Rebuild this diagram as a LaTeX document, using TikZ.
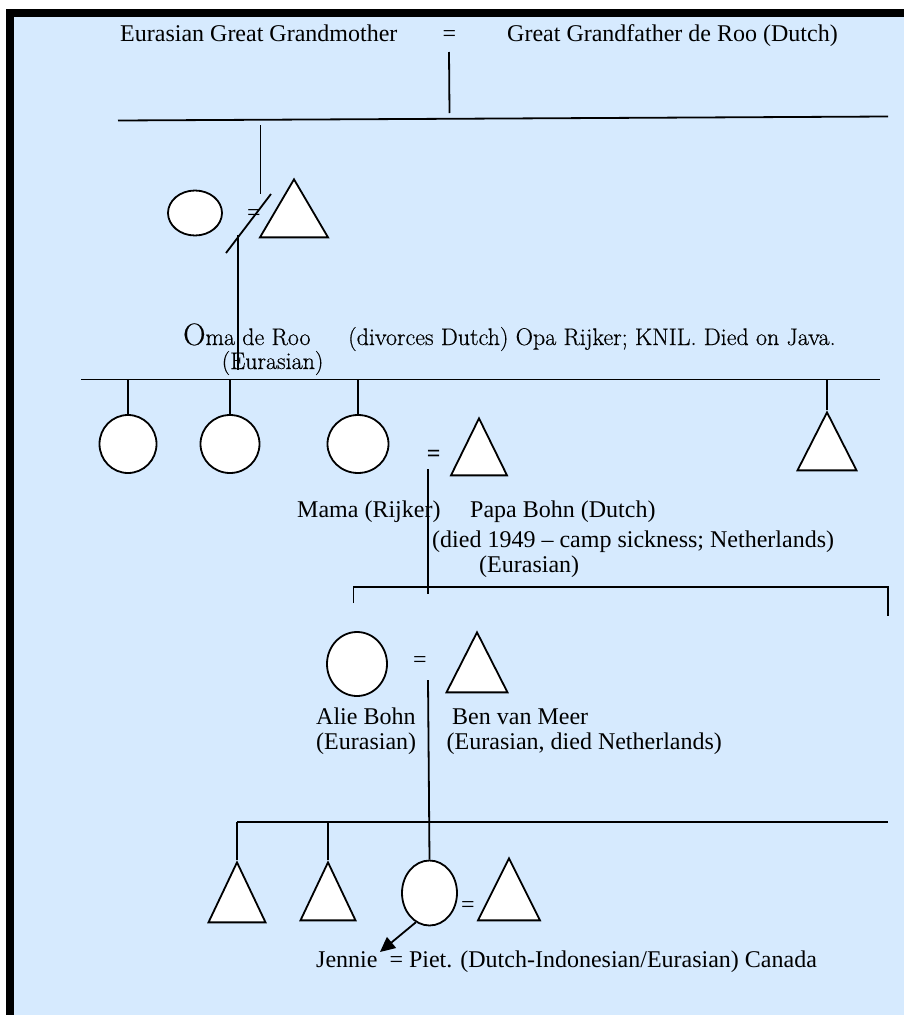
\documentclass[tikz,border=0pt]{standalone}
\usepackage{fontspec}
\newfontfamily\tnr{Liberation Serif}
\newfontfamily\camb[FakeBold=0.5]{Latin Modern Roman}
\usepackage{tikz}
\usetikzlibrary{arrows.meta,shapes.geometric}
\definecolor{bgblue}{RGB}{214,234,254}

\begin{document}
\begin{tikzpicture}[x=1pt,y=-1pt,
  txt/.style={inner sep=0pt,anchor=base west,font=\tnr\fontsize{24}{26}\selectfont},
  cam/.style={inner sep=0pt,anchor=base west,font=\camb\fontsize{24}{26}\selectfont},
  eqs/.style={inner sep=0pt,font=\tnr\fontsize{24}{26}\selectfont},
  fem/.style={draw,ellipse,fill=white,line width=1.8pt,inner sep=0pt},
  mal/.style={draw,isosceles triangle,isosceles triangle stretches,shape border rotate=90,
    fill=white,line width=1.8pt,inner sep=0pt,anchor=apex},
  ln/.style={line width=1.8pt},
  arr/.style={line width=1.8pt,-{Triangle[length=15pt,width=14pt]}}]
\useasboundingbox (0,0) rectangle (904,1015);
\fill[black] (6,9) rectangle (904,1015);
\fill[bgblue] (14,17) rectangle (904,1015);

\node[txt] (ggm) at (120,41) {Eurasian Great Grandmother};
\node[eqs] (eqA) at (449.5,36) {=};
\node[txt] (ggf) at (507,41) {Great Grandfather de Roo (Dutch)};
\coordinate (d1) at (449,52);
\coordinate (d1e) at (449.5,113);
\coordinate (s1w) at (118,120.5);
\coordinate (s1e) at (888,116.5);
\draw[ln] (d1) -- (d1e);
\draw[ln] (s1w) -- (s1e);

\node[fem,minimum width=54,minimum height=45] (oma) at (195,213) {};
\node[eqs] (eqB) at (254,215) {=};
\node[mal,minimum width=68,minimum height=58] (opa) at (294,177) {};
\coordinate (d2) at (260.5,125);
\coordinate (dvA) at (226,253);
\coordinate (dvB) at (271,194);
\coordinate (d3) at (238,235);
\coordinate (d3e) at (238,370);
\draw[ln] (d2) -- (d2 |- dvB);
\draw[ln] (dvA) -- (dvB);
\draw[ln] (d3) -- (d3e);
\node[cam] (omaN) at (183,345) {{\fontsize{31}{31}\selectfont O}ma de Roo};
\node[cam] (opaN) at (348,345) {(divorces Dutch) Opa Rijker; KNIL. Died on Java.};
\node[cam] (omaE) at (221.5,369) {(Eurasian)};

\coordinate (s3w) at (81,379.5);
\coordinate (s3e) at (880,379.5);
\draw[ln] (s3w) -- (s3e);
\node[fem,minimum width=57,minimum height=58] (sis1) at (128,444) {};
\node[fem,minimum width=59,minimum height=58] (sis2) at (230,444) {};
\node[fem,minimum width=61,minimum height=58] (mama) at (358,444) {};
\node[mal,minimum width=59,minimum height=58] (uncle) at (827,410) {};
\foreach \n in {sis1,sis2,mama} \draw[ln] (\n.north) -- (\n.north |- s3w);
\draw[ln] (uncle.apex) -- (uncle.apex |- s3w);
\node[eqs,font=\tnr\bfseries\fontsize{24}{26}\selectfont] (eqC) at (433.7,456) {=};
\node[mal,minimum width=56,minimum height=57] (papa) at (479,416) {};
\coordinate (d4) at (428,469);
\coordinate (d4e) at (428,594);
\draw[ln] (d4) -- (d4e);
\node[txt] (mamaT) at (297,517) {Mama (Rijker)};
\node[txt] (papaT) at (470,517) {Papa Bohn (Dutch)};
\node[txt] (papaD) at (432,547) {(died 1949 – camp sickness; Netherlands)};
\node[txt] (mamaE) at (479,572) {(Eurasian)};

\coordinate (s4w) at (353.5,587);
\coordinate (s4e) at (888,587);
\coordinate (s4wd) at (353.5,603);
\coordinate (s4ed) at (888,616);
\draw[ln] (s4wd) -- (s4w) -- (s4e) -- (s4ed);
\node[fem,minimum width=60,minimum height=64] (alie) at (357,664) {};
\node[eqs] (eqD) at (420,662) {=};
\node[mal,minimum width=61,minimum height=60] (ben) at (477,630) {};
\node[txt] (alieT) at (316,724) {Alie Bohn};
\node[txt] (alieE) at (316,749) {(Eurasian)};
\node[txt] (benT) at (452,724) {Ben van Meer};
\node[txt] (benE) at (446.5,749) {(Eurasian, died Netherlands)};

\coordinate (s5w) at (237,822);
\coordinate (s5e) at (888,822);
\draw[ln] (s5w) -- (s5e);
\node[mal,minimum width=57,minimum height=60] (son1) at (237,860) {};
\node[mal,minimum width=55,minimum height=58] (son2) at (328,860) {};
\node[fem,minimum width=55,minimum height=65] (jen) at (429.5,893) {};
\node[eqs] (eqE) at (468,907) {=};
\node[mal,minimum width=62,minimum height=62] (piet) at (509,856) {};
\coordinate (d5) at (428,680);
\draw[ln] (d5) -- (jen.north);
\draw[ln] (son1.apex) -- (son1.apex |- s5w);
\draw[ln] (son2.apex) -- (son2.apex |- s5w);
\coordinate (jenA) at (380,952);
\draw[arr] (jen.245) -- (jenA);
\node[txt] (jenT) at (316,967) {Jennie\ \ = Piet. (Dutch-Indonesian/Eurasian) Canada};
\end{tikzpicture}
\end{document}
